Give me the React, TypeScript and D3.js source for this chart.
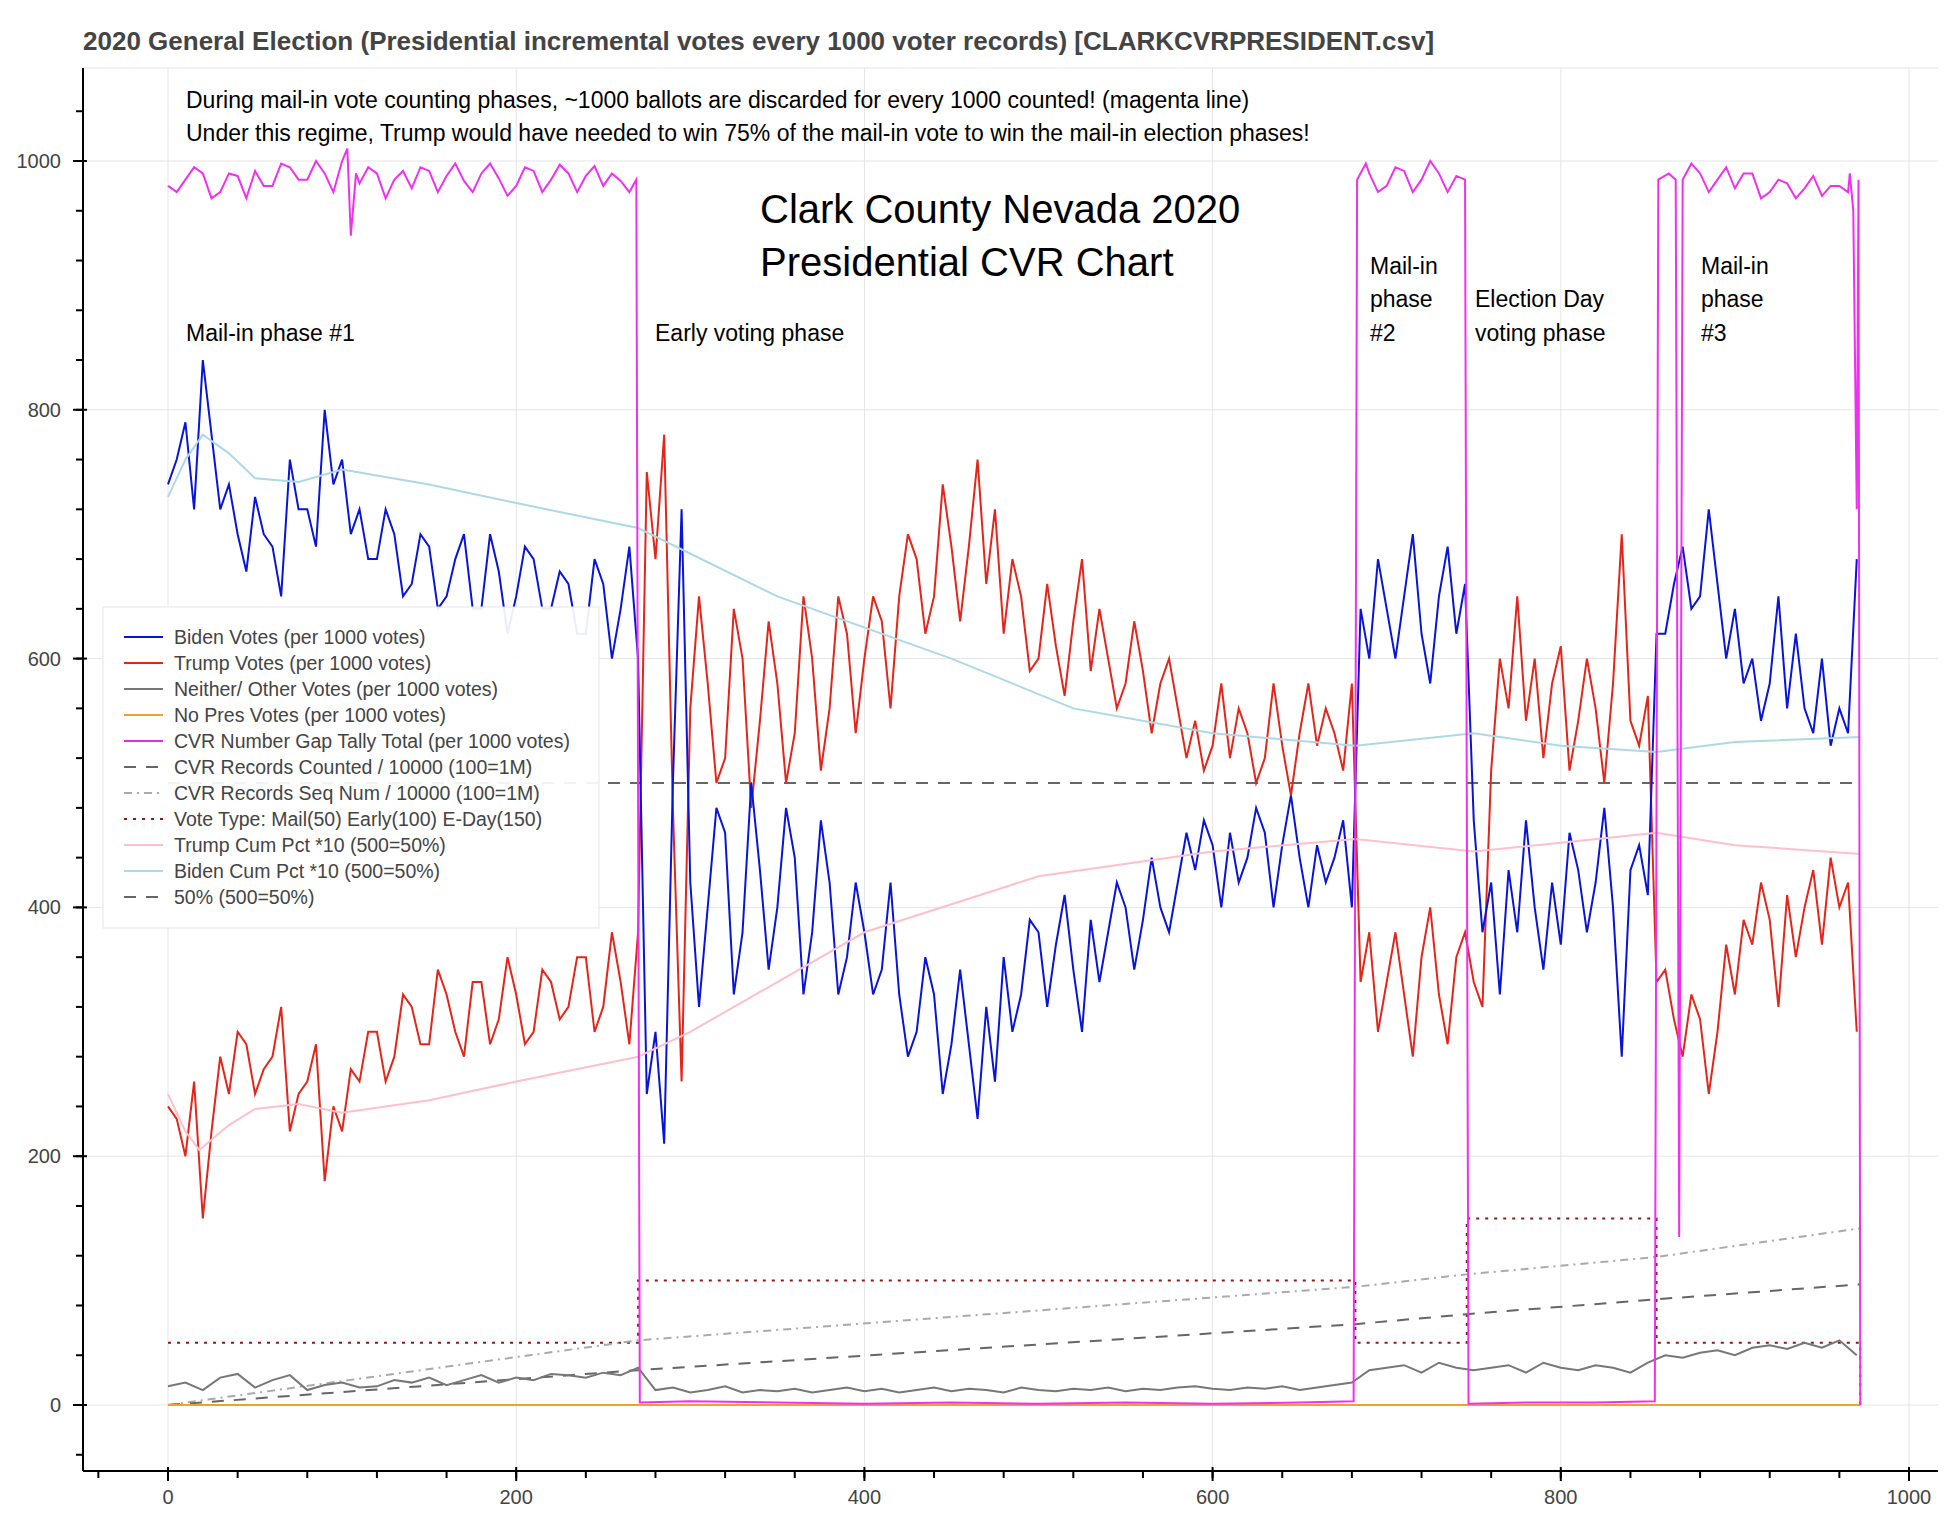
import * as d3 from "d3";

const W = 1946, H = 1514;
const left = 83, top = 68, bottom = 1471, right = 1946;

// Biden / Trump sampled every 5 records, other every 10
const step = 5;
const biden = [
  740,760,790,720,840,780,720,740,700,670,730,700,690,650,760,720,720,690,800,740,
  760,700,720,680,680,720,700,650,660,700,690,640,650,680,700,640,640,700,670,620,
  650,690,680,640,640,670,660,620,620,680,660,600,640,690,600,250,300,210,500,720,
  420,320,400,480,460,330,380,500,430,350,400,480,440,330,380,470,420,330,360,420,
  380,330,350,420,330,280,300,360,330,250,290,350,290,230,320,260,360,300,330,390,
  380,320,370,410,350,300,390,340,380,420,400,350,390,440,400,380,420,460,430,470,
  450,400,460,420,440,480,460,400,450,490,440,400,450,420,440,470,400,640,600,680,
  640,600,650,700,620,580,650,690,620,660,470,380,420,330,430,380,470,400,350,420,
  370,460,430,380,420,480,400,280,430,450,410,620,620,660,690,640,650,720,660,600,
  640,580,600,550,580,650,560,620,560,540,600,530,560,540,680];
const trump = [
  240,230,200,260,150,220,280,250,300,290,250,270,280,320,220,250,260,290,180,240,
  220,270,260,300,300,260,280,330,320,290,290,350,330,300,280,340,340,290,310,360,
  330,290,300,350,340,310,320,360,360,300,320,380,340,290,380,750,680,780,480,260,
  560,650,580,500,520,640,600,480,550,630,580,500,540,650,600,510,560,650,620,540,
  600,650,630,560,650,700,680,620,650,740,690,630,690,760,660,720,620,680,650,590,
  600,660,610,570,630,680,590,640,600,560,580,630,590,540,580,600,560,520,550,510,
  530,580,520,560,540,500,520,580,530,490,540,580,530,560,540,510,580,340,380,300,
  340,380,330,280,360,400,330,290,360,380,340,320,510,600,560,650,550,600,520,580,
  610,510,550,600,560,500,580,700,550,530,570,340,350,310,280,330,310,250,300,370,
  330,390,370,420,390,320,410,360,400,430,370,440,400,420,300];
const otherStep = 10;
const other = [15,18,12,22,25,14,20,24,12,16,18,14,15,20,18,22,16,20,24,18,22,20,25,24,22,26,24,30,12,14,10,12,15,10,12,11,13,10,12,14,11,13,10,12,14,11,13,12,10,14,12,11,13,12,14,11,13,12,14,15,13,12,14,13,15,12,14,16,18,28,30,32,26,34,30,28,30,32,26,34,30,28,32,30,26,34,40,38,42,44,40,46,48,45,50,46,52,40];
const gap: [number, number][] = [[0,980],[5,975],[10,985],[15,995],[20,990],[25,970],[30,975],[35,990],[40,988],[45,970],[50,992],[55,980],[60,980],[65,998],[70,995],[75,985],[80,985],[85,1000],[90,990],[95,975],[100,1000],[103,1010],[105,940],[108,990],[110,982],[115,995],[120,990],[125,970],[130,985],[135,992],[140,978],[145,995],[150,992],[155,975],[160,988],[165,998],[170,984],[175,975],[180,990],[185,998],[190,986],[195,972],[200,980],[205,995],[210,992],[215,975],[220,985],[225,997],[230,990],[235,975],[240,988],[245,996],[250,980],[255,990],[260,984],[265,975],[269,985],[271,2],[300,3],[350,2],[400,1],[450,2],[500,1],[550,2],[600,1],[650,2],[681,3],[683,985],[688,998],[690,990],[695,975],[700,980],[705,995],[710,992],[715,975],[720,985],[725,1000],[730,990],[735,975],[740,988],[745,985],[747,1],[780,2],[820,2],[854,3],[856,985],[862,990],[866,985],[868,135],[870,985],[875,998],[880,990],[885,975],[890,985],[895,995],[900,978],[905,990],[910,990],[915,970],[920,975],[925,985],[930,982],[935,970],[940,978],[945,988],[950,972],[955,980],[960,980],[965,975],[966,990],[968,960],[970,720],[971,985],[972,0]];
const bidenCum: [number, number][] = [[0,730],[10,760],[20,780],[35,765],[50,745],[75,742],[100,752],[150,740],[200,725],[270,705],[350,650],[450,600],[520,560],[600,540],[682,530],[750,540],[800,530],[855,525],[900,533],[972,537]];
const trumpCum: [number, number][] = [[0,250],[10,220],[18,205],[35,225],[50,238],[75,242],[100,235],[150,245],[200,260],[270,280],[300,300],[350,340],[400,380],[500,425],[600,445],[682,455],[750,445],[800,452],[855,460],[900,450],[972,443]];
const counted: [number, number][] = [[0,0],[270,28],[682,65],[746,73],[855,85],[972,97]];
const seqNum: [number, number][] = [[0,0],[270,52],[682,95],[746,105],[855,119],[972,142]];
const voteType: [number, number][] = [[0,50],[270,50],[270,100],[682,100],[682,50],[746,50],[746,150],[855,150],[855,50],[972,50],[972,0]];
const noPres: [number, number][] = [[0,0],[972,0]];
const half: [number, number][] = [[0,500],[972,500]];

const legendItems = [
  { label: "Biden Votes (per 1000 votes)", color: "#0a14d8", dash: "" },
  { label: "Trump Votes (per 1000 votes)", color: "#e3261c", dash: "" },
  { label: "Neither/ Other Votes (per 1000 votes)", color: "#777", dash: "" },
  { label: "No Pres Votes (per 1000 votes)", color: "#f0a030", dash: "" },
  { label: "CVR Number Gap Tally Total (per 1000 votes)", color: "#e030e0", dash: "" },
  { label: "CVR Records Counted / 10000 (100=1M)", color: "#666", dash: "12,10" },
  { label: "CVR Records Seq Num / 10000 (100=1M)", color: "#aaa", dash: "8,5,2,5" },
  { label: "Vote Type: Mail(50) Early(100) E-Day(150)", color: "#8b1a1a", dash: "3,6" },
  { label: "Trump Cum Pct *10 (500=50%)", color: "#ffc0cb", dash: "" },
  { label: "Biden Cum Pct *10 (500=50%)", color: "#add8e6", dash: "" },
  { label: "50% (500=50%)", color: "#666", dash: "12,10" },
];

const x = d3.scaleLinear().domain([0, 1000]).range([168, 1909]);
const y = d3.scaleLinear().domain([0, 1000]).range([1405, 161]);
const line = d3.line<[number, number]>().x(d => x(d[0])).y(d => y(d[1]));
const seq = (a: number[], s: number) => a.map((v, i) => [i * s, v] as [number, number]);

export default function App() {
  const xMinor = d3.range(-40, 1011, 40);
  const yMinor = d3.range(-40, 1075, 40);
  const font = "Arial, 'Liberation Sans', sans-serif";
  return (
    <svg width={W} height={H} style={{ display: "block", margin: -8 }} fontFamily={font}>
      <rect width={W} height={H} fill="#fff" />
      <text x={83} y={50} fontSize={26} fontWeight="bold" fill="#444">
        2020 General Election (Presidential incremental votes every 1000 voter records) [CLARKCVRPRESIDENT.csv]
      </text>
      {x.ticks(5).map(t => <line key={"gx" + t} x1={x(t)} x2={x(t)} y1={top} y2={bottom} stroke="#e5e5e5" />)}
      {y.ticks(5).map(t => <line key={"gy" + t} x1={left} x2={right} y1={y(t)} y2={y(t)} stroke="#e5e5e5" />)}
      <line x1={left} x2={right} y1={top} y2={top} stroke="#e5e5e5" />
      <path d={line(voteType)!} fill="none" stroke="#8b1a1a" strokeWidth={2} strokeDasharray="3,6" />
      <path d={line(seqNum)!} fill="none" stroke="#aaa" strokeWidth={2} strokeDasharray="8,5,2,5" />
      <path d={line(counted)!} fill="none" stroke="#666" strokeWidth={2} strokeDasharray="12,10" />
      <path d={line(half)!} fill="none" stroke="#666" strokeWidth={2} strokeDasharray="12,10" />
      <path d={line(seq(other, otherStep))!} fill="none" stroke="#777" strokeWidth={2} />
      <path d={line(noPres)!} fill="none" stroke="#f0a030" strokeWidth={2} />
      <path d={line(seq(trump, step))!} fill="none" stroke="#e3261c" strokeWidth={2} />
      <path d={line(seq(biden, step))!} fill="none" stroke="#0a14d8" strokeWidth={2} />
      <path d={line(trumpCum)!} fill="none" stroke="#ffc0cb" strokeWidth={2} />
      <path d={line(bidenCum)!} fill="none" stroke="#add8e6" strokeWidth={2} />
      <path d={line(gap)!} fill="none" stroke="#f030f0" strokeWidth={2} />
      {/* axes */}
      <line x1={left} x2={left} y1={top} y2={bottom} stroke="#000" strokeWidth={2} />
      <line x1={left} x2={right} y1={bottom} y2={bottom} stroke="#000" strokeWidth={2} />
      {xMinor.map(t => <line key={"xm" + t} x1={x(t)} x2={x(t)} y1={bottom} y2={bottom + 7} stroke="#000" strokeWidth={2} />)}
      {x.ticks(5).map(t => (
        <g key={"xt" + t}>
          <line x1={x(t)} x2={x(t)} y1={bottom - 4} y2={bottom + 10} stroke="#000" strokeWidth={2} />
          <text x={x(t)} y={bottom + 33} textAnchor="middle" fontSize={20} fill="#444">{t}</text>
        </g>
      ))}
      {yMinor.map(t => <line key={"ym" + t} x1={left - 7} x2={left} y1={y(t)} y2={y(t)} stroke="#000" strokeWidth={2} />)}
      {y.ticks(5).map(t => (
        <g key={"yt" + t}>
          <line x1={left - 10} x2={left + 4} y1={y(t)} y2={y(t)} stroke="#000" strokeWidth={2} />
          <text x={left - 22} y={y(t) + 7} textAnchor="end" fontSize={20} fill="#444">{t}</text>
        </g>
      ))}
      {/* annotations */}
      <g fontSize={23} fill="#000">
        <text x={186} y={108}>During mail-in vote counting phases, ~1000 ballots are discarded for every 1000 counted! (magenta line)</text>
        <text x={186} y={141}>Under this regime, Trump would have needed to win 75% of the mail-in vote to win the mail-in election phases!</text>
      </g>
      <g fontSize={23} fill="#000">
        <text x={186} y={341}>Mail-in phase #1</text>
        <text x={655} y={341}>Early voting phase</text>
        <text x={1370} y={274}>Mail-in</text>
        <text x={1370} y={307}>phase</text>
        <text x={1370} y={341}>#2</text>
        <text x={1475} y={307}>Election Day</text>
        <text x={1475} y={341}>voting phase</text>
        <text x={1701} y={274}>Mail-in</text>
        <text x={1701} y={307}>phase</text>
        <text x={1701} y={341}>#3</text>
      </g>
      <text x={760} y={223} fontSize={40}>Clark County Nevada 2020</text>
      <text x={760} y={276} fontSize={40}>Presidential CVR Chart</text>
      {/* legend */}
      <rect x={103} y={607} width={496} height={321} fill="#fff" fillOpacity={0.92} stroke="#e5e5e5" />
      {legendItems.map((d, i) => (
        <g key={d.label} transform={`translate(0,${637 + i * 26})`}>
          <line x1={124} x2={163} y1={0} y2={0} stroke={d.color} strokeWidth={2} strokeDasharray={d.dash} />
          <text x={174} y={7} fontSize={19.5} fill="#444">{d.label}</text>
        </g>
      ))}
    </svg>
  );
}
